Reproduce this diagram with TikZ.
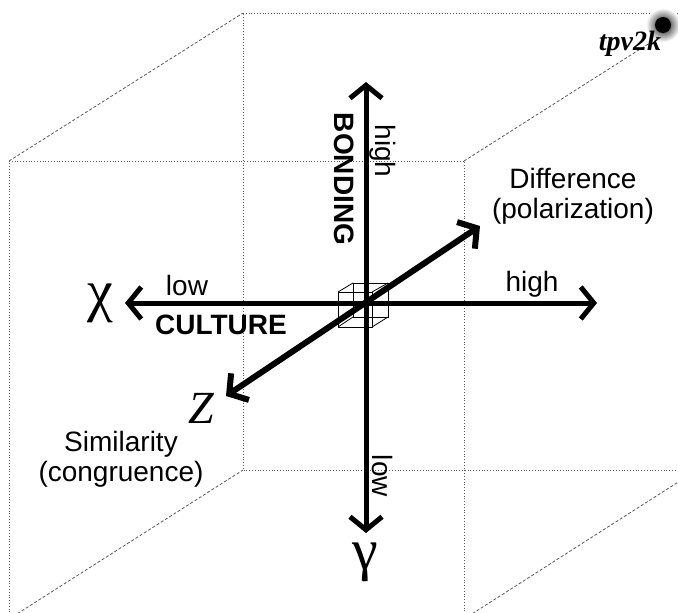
\documentclass[tikz,border=0pt]{standalone}
\usepackage{fontspec}
\setmainfont{Liberation Sans}
\newfontfamily\serifgr{Liberation Serif}
\usetikzlibrary{arrows.meta}
\begin{document}
\begin{tikzpicture}[x=1pt,y=-1pt,
  facebox/.style={gray!70!black,line width=0.8pt,dotted},
  diagline/.style={gray!70!black,line width=0.8pt,dash pattern=on 3pt off 2pt},
  axisarrow/.style={line width=5pt,{Straight Barb[length=13pt,width=32pt]}-{Straight Barb[length=13pt,width=32pt]}},
  lbl/.style={inner sep=0pt,font=\fontsize{28}{30}\selectfont},
  blbl/.style={inner sep=0pt,font=\fontsize{28}{30}\selectfont\bfseries},
  greek/.style={inner sep=0pt,font=\fontsize{58}{60}\selectfont\serifgr}
]
\fill[white] (0,0) rectangle (678,613);
\clip (0,0) rectangle (678,613);
% big wireframe cube: front face (9,161)-(464,619), back face (243,13)-(697,470)
\coordinate (F1) at (9,161);
\coordinate (F2) at (464,161);
\coordinate (F3) at (464,619);
\coordinate (F4) at (9,619);
\coordinate (B1) at (243,13);
\coordinate (B2) at (697,13);
\coordinate (B3) at (697,470);
\coordinate (B4) at (243,470);
\draw[facebox] (F1) -- (F2) -- (F3) -- (F4) -- cycle;
\draw[facebox] (B1) -- (B2) -- (B3) -- (B4) -- cycle;
\draw[diagline] (F1) -- (B1);
\draw[diagline] (F2) -- (B2);
\draw[diagline] (F3) -- (B3);
\draw[diagline] (F4) -- (B4);
% small cube at the origin
\coordinate (f1) at (338,292);
\coordinate (f2) at (372,292);
\coordinate (f3) at (372,327);
\coordinate (f4) at (338,327);
\coordinate (b1) at (353,283);
\coordinate (b2) at (388,283);
\coordinate (b3) at (388,317);
\coordinate (b4) at (353,317);
\draw[line width=0.8pt] (f1) -- (f2) -- (f3) -- (f4) -- cycle;
\draw[line width=0.6pt] (b1) -- (b2) -- (b3) -- (b4) -- cycle;
\draw[line width=0.8pt] (f1) -- (b1) (f2) -- (b2) (f3) -- (b3) (f4) -- (b4);
% axes
\coordinate (O) at (366,303);
\coordinate (top) at (366,82);
\coordinate (bot) at (366,533);
\coordinate (left) at (125,303);
\coordinate (right) at (597,303);
\coordinate (zlo) at (226,396);
\coordinate (zhi) at (480,226);
\draw[axisarrow] (bot) -- (top);
\draw[axisarrow] (left) -- (right);
\draw[axisarrow,line width=6pt] (zlo) -- (zhi);
% labels
\node[greek] (chi) at (100,303) {χ};
\node[greek] (gam) at (365,562) {γ};
\node[inner sep=0pt,font=\fontsize{46}{48}\selectfont\serifgr\itshape] (zz) at (201,408) {Z};
\node[lbl] (lowx) at (187,285) {low};
\node[blbl] (cult) at (221,325) {CULTURE};
\node[lbl] (highx) at (532,284) {high};
\node[blbl,rotate=-90] (bond) at (344,179) {BONDING};
\node[lbl,rotate=-90] (highy) at (383,151) {high};
\node[lbl,rotate=-90] (lowy) at (383,476) {low};
\node[lbl,align=center] (diff) at (573,196) {Difference\\(polarization)};
\node[lbl,align=center] (sim) at (121,459) {Similarity\\(congruence)};
% signature
\shade[inner color=black,outer color=white] (663,25) circle (17);
\fill[black] (663,25) circle (8);
\node[inner sep=0pt,font=\fontsize{28}{30}\selectfont\serifgr\bfseries\itshape] (sig) at (630,44) {tpv2k};
\end{tikzpicture}
\end{document}
